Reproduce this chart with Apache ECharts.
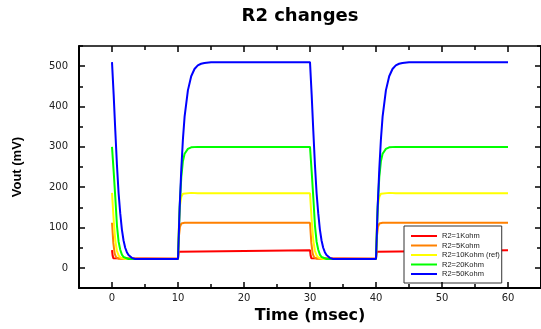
<!DOCTYPE html>
<html>
<head>
<meta charset="utf-8">
<script src="https://cdn.jsdelivr.net/npm/echarts@6/dist/echarts.min.js"></script>
<style>
html,body{margin:0;padding:0;background:#fff;}
#chart{width:541px;height:329px;}
</style>
</head>
<body>
<div id="chart"></div>
<script>
// ---- data (time in msec, Vout in mV) ----
const seriesNames = ['R2=1Kohm', 'R2=5Kohm', 'R2=10Kohm (ref)', 'R2=20Kohm', 'R2=50Kohm'];
const seriesColors = ['#ff0000', '#ff8000', '#ffff00', '#00ff00', '#0000ff'];

const r2_1k = [[0,44],[0.1,30],[0.2,24],[0.4,23],[10,23],[10.1,40],[10.3,44],[30,44],
  [30.1,30],[30.2,24],[30.4,23],[40,23],[40.1,40],[40.3,44],[60,44]];

const r2_5k = [[0,112],[0.2,62],[0.4,36],[0.6,27],[0.8,24],[1,23],[10,23],[10.15,80],[10.3,102],[10.5,110],[11,112],[30,112],
  [30.2,62],[30.4,36],[30.6,27],[30.8,24],[31,23],[40,23],[40.15,80],[40.3,102],[40.5,110],[41,112],[60,112]];

const r2_10k = [[0,186],[0.25,120],[0.5,68],[0.75,42],[1,31],[1.25,26],[1.5,23],[2,22],[10,22],
  [10.15,110],[10.3,155],[10.5,176],[10.75,184],[11,187],[12,186],[13,185],[30,185],
  [30.25,120],[30.5,68],[30.75,42],[31,31],[31.25,26],[31.5,23],[32,22],[40,22],
  [40.15,110],[40.3,155],[40.5,176],[40.75,184],[41,187],[42,186],[43,185],[60,185]];

const r2_20k = [[0,300],[0.25,240],[0.5,175],[0.75,105],[1,65],[1.25,45],[1.5,33],[1.75,27],[2,24],[2.5,22],[10,22],
  [10.25,150],[10.5,225],[10.75,265],[11,283],[11.5,295],[12,299],[13,300],[30,300],
  [30.25,240],[30.5,175],[30.75,105],[31,65],[31.25,45],[31.5,33],[31.75,27],[32,24],[32.5,22],[40,22],
  [40.25,150],[40.5,225],[40.75,265],[41,283],[41.5,295],[42,299],[43,300],[60,300]];

const r2_50k = [[0,510],[0.25,430],[0.5,340],[0.75,255],[1,185],[1.25,135],[1.5,95],[1.75,68],[2,50],[2.25,39],[2.5,32],[2.75,28],[3,25],[3.25,23],[3.5,22],[10,22],
  [10.25,150],[10.5,245],[10.75,320],[11,375],[11.5,440],[12,475],[12.5,493],[13,502],[13.5,506],[14,508],[15,510],[30,510],
  [30.25,430],[30.5,340],[30.75,255],[31,185],[31.25,135],[31.5,95],[31.75,68],[32,50],[32.25,39],[32.5,32],[32.75,28],[33,25],[33.25,23],[33.5,22],[40,22],
  [40.25,150],[40.5,245],[40.75,320],[41,375],[41.5,440],[42,475],[42.5,493],[43,502],[43.5,506],[44,508],[45,510],[60,510]];

const xMajor = [0, 10, 20, 30, 40, 50, 60];
const xMinor = [-5, 5, 15, 25, 35, 45, 55, 65];
const yMajor = [0, 100, 200, 300, 400, 500];
const yMinor = [-50, 50, 150, 250, 350, 450, 550];

const allData = [r2_1k, r2_5k, r2_10k, r2_20k, r2_50k];

// ---- chart ----
const chart = echarts.init(document.getElementById('chart'), null, {renderer: 'canvas'});
const axisColor = '#000';
const labelFont = 'DejaVu Sans';

function xAx(pos, showLine, showLabel, tickLen, ticks) {
  return {
    type: 'value', position: pos, min: -5, max: 65, z: 10,
    splitLine: {show: false},
    axisLine: {show: showLine, onZero: false, lineStyle: {color: axisColor, width: pos === 'bottom' ? 2 : 1.5}},
    axisTick: {show: true, inside: true, length: tickLen, customValues: ticks, lineStyle: {color: axisColor, width: 1.5}},
    axisLabel: {show: showLabel, customValues: xMajor, margin: 5, color: '#222', fontSize: 10, fontFamily: labelFont},
    name: (showLabel ? 'Time (msec)' : ''), nameLocation: 'middle', nameGap: 18,
    nameTextStyle: {fontSize: 16, fontWeight: 'bold', color: '#000', fontFamily: 'DejaVu Sans'}
  };
}
function yAx(pos, showLine, showLabel, tickLen, ticks) {
  return {
    type: 'value', position: pos, min: -50, max: 550, z: 10,
    splitLine: {show: false},
    axisLine: {show: showLine, onZero: false, lineStyle: {color: axisColor, width: 2}},
    axisTick: {show: true, inside: true, length: tickLen, customValues: ticks, lineStyle: {color: axisColor, width: 1.5}},
    axisLabel: {show: showLabel, customValues: yMajor, margin: 11, color: '#222', fontSize: 10, fontFamily: labelFont},
    name: (showLabel ? 'Vout (mV)' : ''), nameLocation: 'middle', nameGap: 55, nameRotate: 90,
    nameTextStyle: {fontSize: 13, fontWeight: 'bold', color: '#000', fontFamily: 'Liberation Sans'}
  };
}

const option = {
  animation: false,
  backgroundColor: '#fff',
  title: {
    text: 'R2 changes', left: 300, top: 7, padding: 0, textAlign: 'center',
    textStyle: {fontSize: 18, fontWeight: 'bold', color: '#000', fontFamily: 'DejaVu Sans'}
  },
  grid: {left: 79, top: 46, width: 464, height: 245},
  xAxis: [
    xAx('bottom', true, true, 6, xMajor),
    xAx('bottom', false, false, 4, xMinor),
    xAx('top', true, false, 6, xMajor),
    xAx('top', false, false, 4, xMinor)
  ],
  yAxis: [
    yAx('left', true, true, 6, yMajor),
    yAx('left', false, false, 4, yMinor),
    yAx('right', true, false, 6, yMajor),
    yAx('right', false, false, 4, yMinor)
  ],
  legend: {
    orient: 'vertical', left: 404, top: 226,
    padding: [6, 2, 5, 7],
    icon: 'rect',
    itemWidth: 26, itemHeight: 2, itemGap: 1.5,
    backgroundColor: '#fff', borderColor: '#333', borderWidth: 1,
    textStyle: {fontSize: 7.5, lineHeight: 8, color: '#222', fontFamily: 'Liberation Sans'},
    data: seriesNames
  },
  series: seriesNames.map((n, i) => ({
    name: n, type: 'line', data: allData[i], symbol: 'none',
    xAxisIndex: 0, yAxisIndex: 0,
    lineStyle: {color: seriesColors[i], width: 2},
    itemStyle: {color: seriesColors[i]}
  }))
};
chart.setOption(option);
</script>
</body>
</html>
